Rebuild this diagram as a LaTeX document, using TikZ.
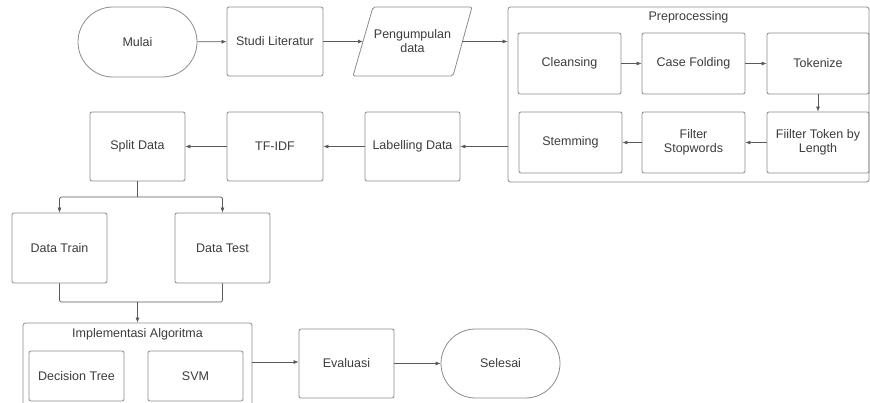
\documentclass[tikz,border=0pt]{standalone}
\usepackage{fontspec}
\setmainfont{Liberation Sans}
\usetikzlibrary{arrows.meta,shapes.misc,calc}
\definecolor{boxline}{HTML}{8C8C8C}
\definecolor{arrline}{HTML}{5A5A5A}
\definecolor{txt}{HTML}{3C3C3C}
\begin{document}
\begin{tikzpicture}[x=1pt,y=-1pt,
  every node/.style={font=\fontsize{12.5}{14}\selectfont, text=txt, align=center, inner sep=0pt},
  box/.style={draw=boxline, line width=0.8pt, rounded corners=2pt, rectangle, minimum width=#1},
  box/.default=95,
  term/.style={draw=boxline, line width=0.8pt, rounded rectangle, minimum width=119, minimum height=70},
  group/.style={draw=boxline, line width=0.8pt, rounded corners=2.5pt, rectangle},
  conn/.style={draw=arrline, line width=0.7pt, -{Latex[length=5pt,width=4pt]}},
  link/.style={draw=arrline, line width=0.7pt, rounded corners=2pt}
]
\clip (0,0) rectangle (870,403);
\fill[white] (0,0) rectangle (870,403);

% top row
\node[term] (mulai) at (137.5,42) {Mulai};
\node[box=96, minimum height=69] (studi) at (275,41.5) {Studi Literatur};
\node (peng) at (412.5,41.5) [minimum width=99, minimum height=69] {Pengumpulan\\data};
\draw[boxline, line width=0.8pt, rounded corners=2pt] (353,76) -- (373,7) -- (472,7) -- (453,76) -- cycle;

% preprocessing group
\node[group, minimum width=361, minimum height=175] (pre) at (688.5,94.5) {};
\node (pretitle) at (688.5,17.5) {Preprocessing};
\node[box=103, minimum height=61] (clean) at (569.5,63.5) {Cleansing};
\node[box=103, minimum height=61] (case) at (693.5,63.5) {Case Folding};
\node[box=102, minimum height=61] (token) at (818,63.5) {Tokenize};
\node[box=103, minimum height=61] (stem) at (570.5,142.5) {Stemming};
\node[box=103, minimum height=61] (stop) at (693.5,142.5) {Filter\\Stopwords};
\node[box=102, minimum height=61] (len) at (818,142.5) {Fiilter Token by\\Length};

% second row
\node[box, minimum height=69] (lab) at (412.5,146.5) {Labelling Data};
\node[box=96, minimum height=69] (tfidf) at (275,146.5) {TF-IDF};
\node[box, minimum height=69] (split) at (137.5,146.5) {Split Data};

% third row
\node[box, minimum height=70] (train) at (59.5,248) {Data Train};
\node[box, minimum height=70] (test) at (222.5,248) {Data Test};

% implementation group
\node[group, minimum width=229, minimum height=95] (impl) at (137.5,370.5) {};
\node (impltitle) at (137.5,334.5) {Implementasi Algoritma};
\node[box, minimum height=50] (dt) at (76.5,376) {Decision Tree};
\node[box, minimum height=50] (svm) at (195.5,376) {SVM};

\node[box, minimum height=69] (eval) at (346.5,363.5) {Evaluasi};
\node[term, minimum height=69] (selesai) at (500.5,363.5) {Selesai};

% coordinates for junctions
\coordinate (splitj) at (137.5,197);
\coordinate (mergej) at (137.5,302);

% connectors
\draw[conn] (mulai) -- (studi);
\draw[conn] (studi) -- (363,41.5);
\draw[conn] (peng.east) -- (peng.east -| pre.west);
\draw[conn] (clean) -- (case);
\draw[conn] (case) -- (token);
\draw[conn] (token) -- (len);
\draw[conn] (len) -- (stop);
\draw[conn] (stop) -- (stem);
\draw[conn] (lab.east -| pre.west) -- (lab.east);
\draw[conn] (lab) -- (tfidf);
\draw[conn] (tfidf) -- (split);
\draw[link] (split.south) -- (splitj);
\draw[conn, rounded corners=2pt] (splitj) -| (train.north);
\draw[conn, rounded corners=2pt] (splitj) -| (test.north);
\draw[link] (train.south) |- (mergej);
\draw[link] (test.south) |- (mergej);
\draw[conn] (mergej) -- (impl.north);
\draw[conn] (impl.east |- 0,362) -- (eval.west |- 0,362);
\draw[conn] (eval) -- (selesai);
\end{tikzpicture}
\end{document}
